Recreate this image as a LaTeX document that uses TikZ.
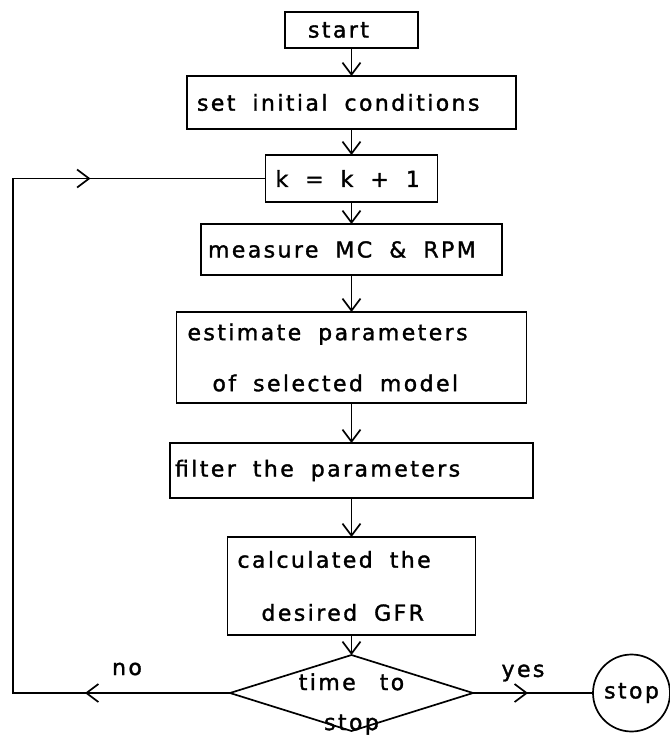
\documentclass[tikz,border=0pt]{standalone}
\usepackage{fontspec}
\setmainfont{DejaVu Sans}[LetterSpace=11,FakeBold=1.5]
\usetikzlibrary{arrows.meta,positioning,shapes.geometric,decorations.markings}
\newcommand{\chartfont}{\fontsize{22}{26}\selectfont}
\newcommand{\gap}[1][17pt]{\hspace{#1}}

\begin{document}
\begin{tikzpicture}[
        x=1pt,
        y=-1pt,
        line width=1.7pt,
        >={Straight Barb[length=12pt,width=18pt]},
        every node/.style={font=\chartfont},
        box/.style={
            rectangle,
            draw,
            align=left,
            inner ysep=0pt,
            outer sep=0pt,
        },
        backline/.style={
            postaction={decorate},
            decoration={markings,
                mark=at position 145pt with {\arrow{>}},
                mark=at position -175pt with {\arrow{>}}}
        },
        yesline/.style={
            postaction={decorate},
            decoration={markings,
                mark=at position 55pt with {\arrow{>}}}
        }
    ]
    \useasboundingbox (0,0) rectangle (670,740);
    \node[box, anchor=north, text width=87pt, inner xsep=23pt, minimum height=36pt] (start) at (351.5,12) {start};
    \node[box, below=28pt of start, text width=309pt, inner xsep=10pt, minimum height=53pt] (init) {set\gap initial\gap conditions};
    \node[box, below=26pt of init, text width=152pt, inner xsep=10pt, minimum height=47pt] (count) {k\gap =\gap k\gap +\gap 1};
    \node[box, below=22pt of count, text width=287pt, inner xsep=7pt, minimum height=51pt] (measure) {measure\gap MC\gap \&\gap RPM};
    \node[box, below=37pt of measure, text width=328pt, inner xsep=11pt, minimum height=91pt] (estimate)
        {estimate\gap parameters\\[25pt]\hspace*{25pt}of\gap selected\gap model};
    \node[box, below=40pt of estimate, text width=353pt, inner xsep=5pt, minimum height=55pt] (filter) {filter\gap the\gap parameters};
    \node[box, below=39pt of filter, text width=228pt, inner xsep=10pt, minimum height=98pt] (calc)
        {calculated\gap the\\[27pt]\hspace*{24pt}desired\gap GFR};
    \node[diamond, draw, below=20pt of calc, minimum width=243pt, minimum height=76pt, inner sep=0pt, outer sep=0pt] (ask) {};
    \node[align=center, inner sep=0pt] (asktext) at ([yshift=-11pt]ask.center) {time\gap[24pt]to\\[14pt]stop};
    \node[circle, draw, right=120pt of ask, minimum size=77pt, inner sep=0pt, outer sep=0pt] (stop) {stop};
    \coordinate (rail) at (13,400);
    \node (nolabel) at (127,669) {no};
    \node (yeslabel) at (523,673) {yes};

    \foreach \a/\b in {start/init, init/count, count/measure, measure/estimate, estimate/filter, filter/calc, calc/ask}
        \draw[->] (\a.south) -- (\b.north);
    \draw[backline] (ask.west) -- (ask.west -| rail) |- (count.west);
    \draw[yesline] (ask.east) -- (stop.west);
\end{tikzpicture}
\end{document}
